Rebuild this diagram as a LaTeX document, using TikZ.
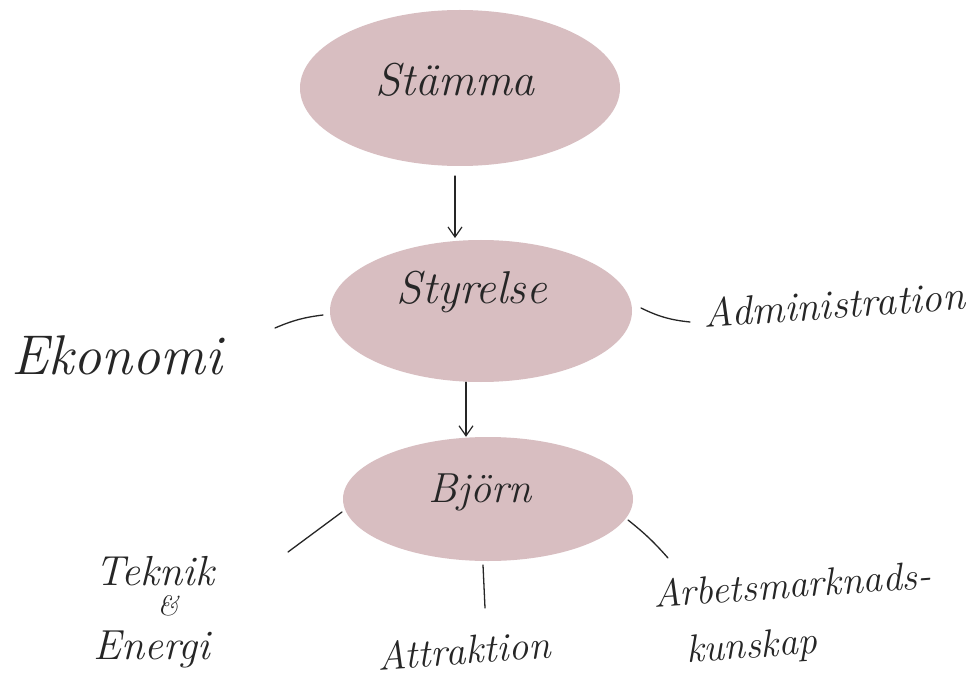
\documentclass[tikz,border=0pt]{standalone}
\usetikzlibrary{arrows.meta,shapes.geometric}
\definecolor{mauve}{RGB}{216,190,193}
\begin{document}
\begin{tikzpicture}[x=1pt,y=-1pt,
  blob/.style={ellipse,fill=mauve,draw=none,inner sep=0pt},
  lbl/.style={font=\itshape\fontsize{40}{44}\selectfont,text=black!85,inner sep=1pt},
  conn/.style={line width=1.3pt,black!85,line cap=round},
  arr/.style={conn,-{Straight Barb[length=10pt,width=14pt,line width=1.2pt]}}]
\useasboundingbox[fill=white] (0,0) rectangle (969,676);
\node[blob,minimum width=320pt,minimum height=156pt] (st) at (460,88) {};
\node[lbl,font=\itshape\fontsize{46}{50}\selectfont] (stt) at (455,80) {Stämma};
\node[blob,minimum width=302pt,minimum height=142pt] (sy) at (481,311) {};
\node[lbl,font=\itshape\fontsize{46}{50}\selectfont] (syt) at (472,292) {Styrelse};
\node[blob,minimum width=290pt,minimum height=124pt] (bj) at (488,499) {};
\node[lbl,font=\itshape\fontsize{42}{46}\selectfont] (bjt) at (480,492) {Björn};
\coordinate (a1) at (455,176);
\draw[arr] (a1) -- (455,238) coordinate (a2);
\draw[arr] (sy.south -| 466,0) -- (bj.north -| 466,0);
\node[lbl,font=\itshape\fontsize{56}{60}\selectfont] (ek) at (117,355) {Ekonomi};
\node[lbl,rotate=4,font=\itshape\fontsize{41}{44}\selectfont] (ad) at (834,304) {Administration};
\node[lbl,font=\itshape\fontsize{42}{46}\selectfont] (te1) at (155,571) {Teknik};
\node[lbl,font=\itshape\fontsize{28}{30}\selectfont] (te2) at (168,606) {\&};
\node[lbl,font=\itshape\fontsize{42}{46}\selectfont] (te3) at (152,649) {Energi};
\node[lbl,rotate=4] (at) at (464,650) {Attraktion};
\node[lbl,rotate=4,font=\itshape\fontsize{39}{42}\selectfont] (ar1) at (792,584) {Arbetsmarknads-};
\node[lbl,rotate=4,font=\itshape\fontsize{39}{42}\selectfont] (ar2) at (752,648) {kunskap};
\coordinate (e1) at (275,328); \coordinate (e2) at (323,315);
\draw[conn] (e1) to[bend left=8] (e2);
\coordinate (d1) at (641,308); \coordinate (d2) at (690,322);
\draw[conn] (d1) to[bend right=10] (d2);
\coordinate (t1) at (288,552); \coordinate (t2) at (342,512);
\draw[conn] (t1) -- (t2);
\coordinate (k1) at (483,565); \coordinate (k2) at (485,608);
\draw[conn] (k1) -- (k2);
\coordinate (r1) at (628,520); \coordinate (r2) at (668,558);
\draw[conn] (r1) to[bend left=5] (r2);
\end{tikzpicture}
\end{document}
